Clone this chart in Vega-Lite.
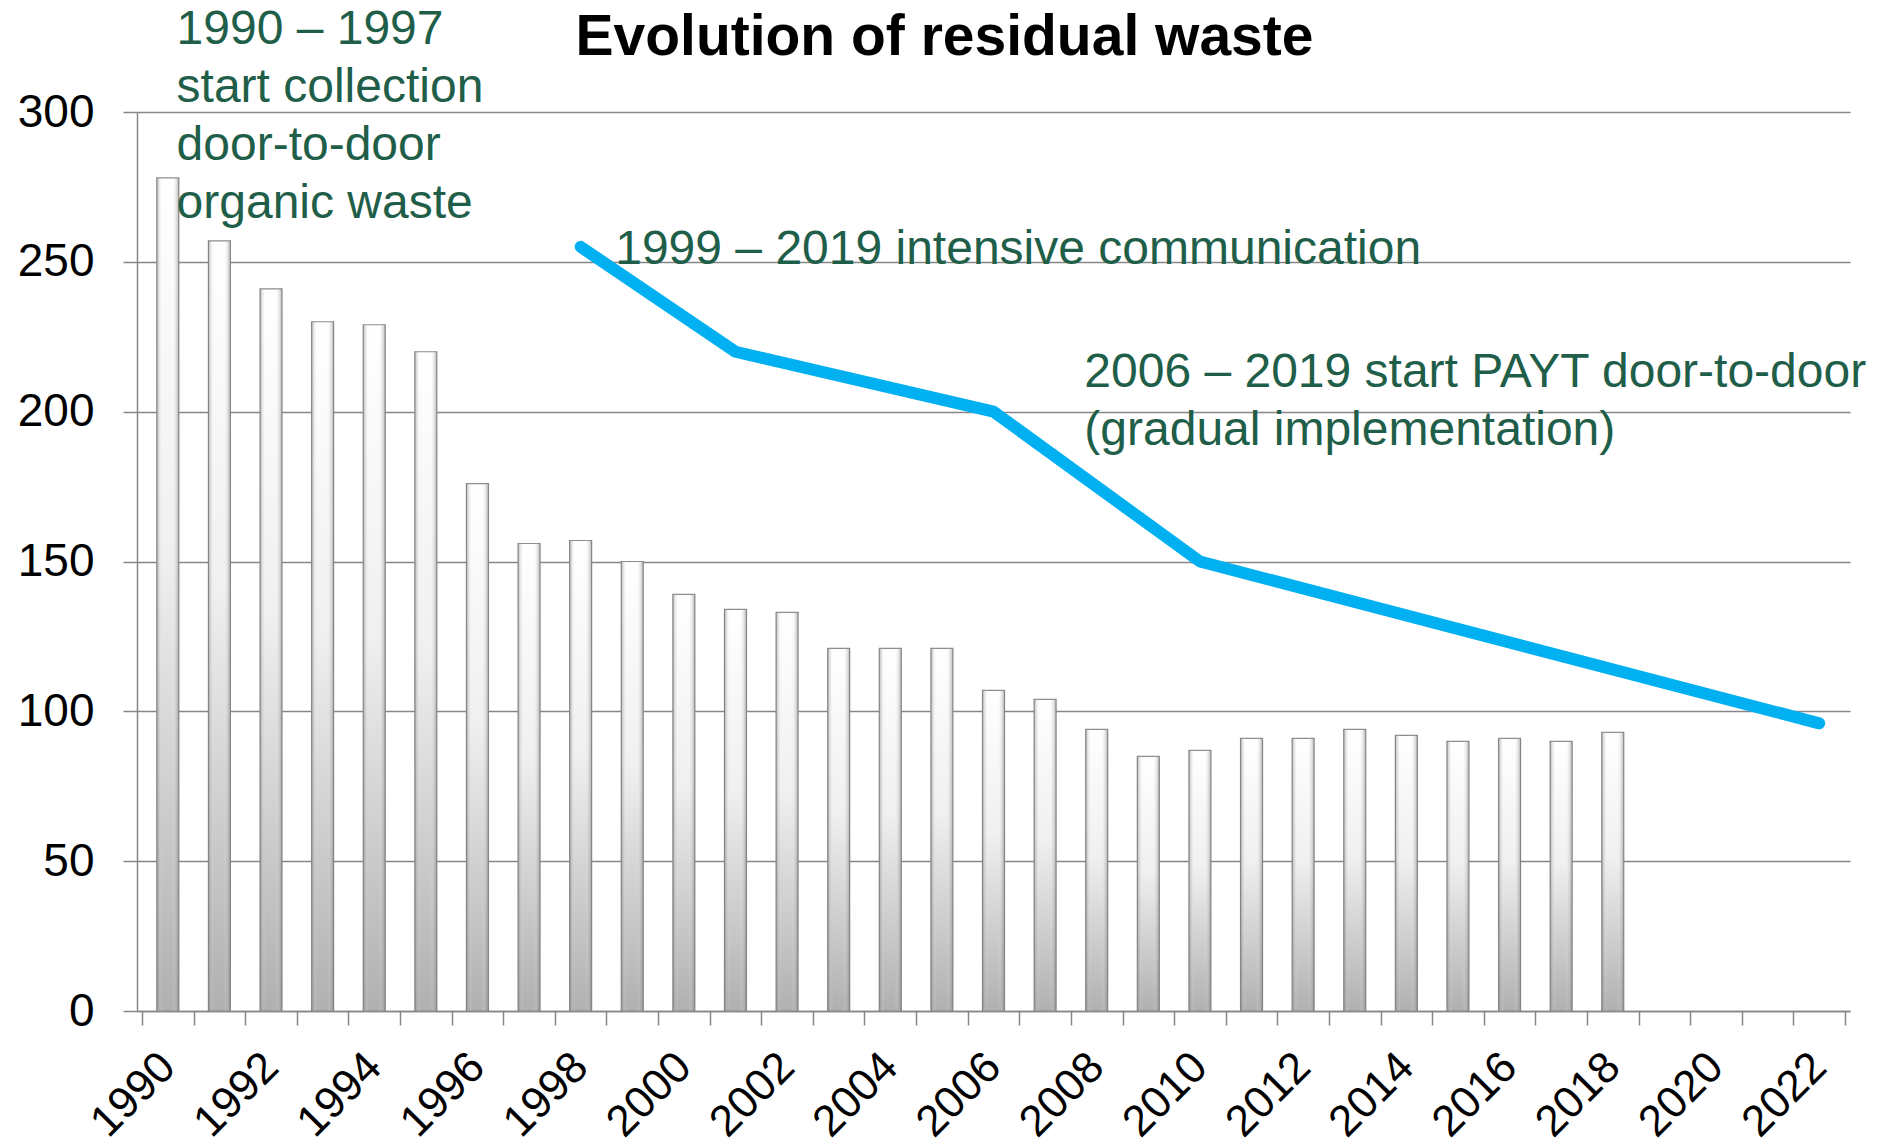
{
  "$schema": "https://vega.github.io/schema/vega-lite/v6.json",
  "autosize": {"type": "none"},
  "width": 1713,
  "height": 899,
  "padding": {"left": 137, "top": 112, "right": 29, "bottom": 135},
  "background": "white",
  "config": {
    "view": {"stroke": null},
    "font": "Liberation Sans"
  },
  "title": {
    "text": "Evolution of residual waste",
    "font": "Liberation Sans",
    "fontSize": 57,
    "fontWeight": "bold",
    "color": "#000000",
    "anchor": "middle",
    "dx": -49,
    "dy": 146,
    "baseline": "alphabetic",
    "offset": 40
  },
  "datasets": {
    "bars": [
      {"year": 1990, "waste": 278}, {"year": 1991, "waste": 257}, {"year": 1992, "waste": 241},
      {"year": 1993, "waste": 230}, {"year": 1994, "waste": 229}, {"year": 1995, "waste": 220},
      {"year": 1996, "waste": 176}, {"year": 1997, "waste": 156}, {"year": 1998, "waste": 157},
      {"year": 1999, "waste": 150}, {"year": 2000, "waste": 139}, {"year": 2001, "waste": 134},
      {"year": 2002, "waste": 133}, {"year": 2003, "waste": 121}, {"year": 2004, "waste": 121},
      {"year": 2005, "waste": 121}, {"year": 2006, "waste": 107}, {"year": 2007, "waste": 104},
      {"year": 2008, "waste": 94}, {"year": 2009, "waste": 85}, {"year": 2010, "waste": 87},
      {"year": 2011, "waste": 91}, {"year": 2012, "waste": 91}, {"year": 2013, "waste": 94},
      {"year": 2014, "waste": 92}, {"year": 2015, "waste": 90}, {"year": 2016, "waste": 91},
      {"year": 2017, "waste": 90}, {"year": 2018, "waste": 93}
    ],
    "target": [
      {"year": 1998, "target": 255}, {"year": 2001, "target": 220}, {"year": 2006, "target": 200},
      {"year": 2010, "target": 150}, {"year": 2022, "target": 96}
    ],
    "notes": [
      {"year": 1990.17, "value": 322.7, "note": "1990 – 1997\nstart collection\ndoor-to-door\norganic waste"},
      {"year": 1998.67, "value": 249.3, "note": "1999 – 2019 intensive communication"},
      {"year": 2007.76, "value": 208.3, "note": "2006 – 2019 start PAYT door-to-door\n(gradual implementation)"}
    ]
  },
  "encoding": {
    "x": {
      "field": "year",
      "type": "quantitative",
      "scale": {"domain": [1989.5, 2022.5], "nice": false, "zero": false},
      "axis": {
        "title": null,
        "grid": false,
        "values": [1989.5, 1990.5, 1991.5, 1992.5, 1993.5, 1994.5, 1995.5, 1996.5, 1997.5, 1998.5, 1999.5, 2000.5, 2001.5, 2002.5, 2003.5, 2004.5, 2005.5, 2006.5, 2007.5, 2008.5, 2009.5, 2010.5, 2011.5, 2012.5, 2013.5, 2014.5, 2015.5, 2016.5, 2017.5, 2018.5, 2019.5, 2020.5, 2021.5, 2022.5, 1990, 1992, 1994, 1996, 1998, 2000, 2002, 2004, 2006, 2008, 2010, 2012, 2014, 2016, 2018, 2020, 2022],
        "labelExpr": "datum.value % 1 == 0 ? format(datum.value, 'd') : ''",
        "labelOverlap": false,
        "labelFlush": false,
        "labelBound": false,
        "labelAngle": -45,
        "labelAlign": "right",
        "labelBaseline": "middle",
        "labelFontSize": 44,
        "labelFont": "Liberation Sans",
        "labelColor": "#000000",
        "labelPadding": 35,
        "tickSize": 14,
        "tickWidth": 1.5,
        "tickColor": "#868686",
        "tickOpacity": {"condition": {"test": "datum.value % 1 != 0", "value": 1}, "value": 0},
        "domainColor": "#868686",
        "domainWidth": 1.5
      }
    }
  },
  "layer": [
    {
      "data": {"name": "bars"},
      "mark": {
        "type": "bar",
        "width": 22,
        "stroke": "#8c8c8c",
        "strokeWidth": 1.2,
        "color": {
          "gradient": "linear",
          "x1": 0, "y1": 0, "x2": 0, "y2": 1,
          "stops": [
            {"offset": 0, "color": "#ffffff"},
            {"offset": 0.45, "color": "#f0f0f0"},
            {"offset": 1, "color": "#b0b0b0"}
          ]
        }
      },
      "encoding": {
        "y": {
          "field": "waste",
          "type": "quantitative",
          "scale": {"domain": [0, 300], "nice": false},
          "axis": {
            "title": null,
            "values": [0, 50, 100, 150, 200, 250, 300],
            "grid": true,
            "gridColor": "#868686",
            "gridWidth": 1.5,
            "domainColor": "#868686",
            "domainWidth": 1.5,
            "tickColor": "#868686",
            "tickWidth": 1.5,
            "tickSize": 14,
            "labelFontSize": 46,
            "labelFont": "Liberation Sans",
            "labelColor": "#000000",
            "labelPadding": 29
          }
        }
      }
    },
    {
      "data": {"name": "bars"},
      "mark": {
        "type": "bar",
        "width": 22,
        "color": {
          "gradient": "linear",
          "x1": 0, "y1": 0, "x2": 1, "y2": 0,
          "stops": [
            {"offset": 0, "color": "rgba(110,110,110,0.5)"},
            {"offset": 0.25, "color": "rgba(255,255,255,0)"},
            {"offset": 0.7, "color": "rgba(255,255,255,0)"},
            {"offset": 1, "color": "rgba(110,110,110,0.5)"}
          ]
        }
      },
      "encoding": {
        "y": {"field": "waste", "type": "quantitative"}
      }
    },
    {
      "data": {"name": "target"},
      "mark": {"type": "line", "color": "#00b0f0", "strokeWidth": 12, "strokeCap": "round", "strokeJoin": "round"},
      "encoding": {
        "y": {"field": "target", "type": "quantitative"}
      }
    },
    {
      "data": {"name": "notes"},
      "mark": {
        "type": "text",
        "align": "left",
        "baseline": "alphabetic",
        "lineBreak": "\n",
        "lineHeight": 58,
        "fontSize": 48,
        "font": "Liberation Sans",
        "color": "#1f5e48"
      },
      "encoding": {
        "y": {"field": "value", "type": "quantitative"},
        "text": {"field": "note", "type": "nominal"}
      }
    }
  ]
}
